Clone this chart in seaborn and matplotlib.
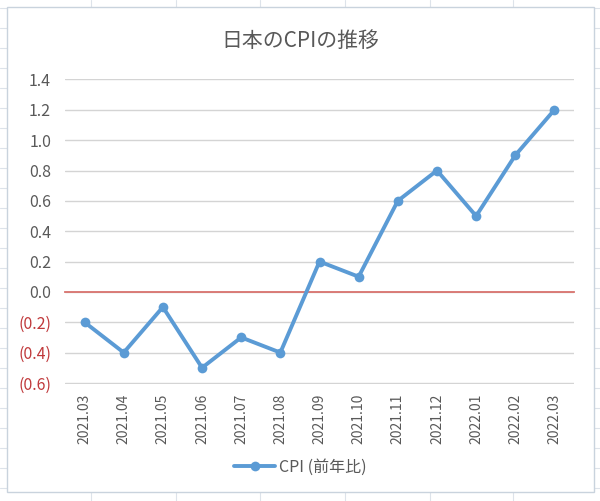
import matplotlib
matplotlib.use("Agg")
import matplotlib.pyplot as plt
import seaborn as sns
import pandas as pd
from matplotlib.lines import Line2D
from matplotlib.patches import Rectangle
from matplotlib.ticker import FuncFormatter, FixedLocator

months = ["2021.03", "2021.04", "2021.05", "2021.06", "2021.07", "2021.08", "2021.09",
          "2021.10", "2021.11", "2021.12", "2022.01", "2022.02", "2022.03"]
cpi = [-0.2, -0.4, -0.1, -0.5, -0.3, -0.4, 0.2, 0.1, 0.6, 0.8, 0.5, 0.9, 1.2]
yticks = [1.4, 1.2, 1.0, 0.8, 0.6, 0.4, 0.2, 0.0, -0.2, -0.4, -0.6]
title = "日本のCPIの推移"
series_label = "CPI (前年比)"

sns.set_theme(style="white")
plt.rcParams['font.family'] = ['Noto Sans CJK JP', 'DejaVu Sans']

df = pd.DataFrame({"month": months, "cpi": cpi, "idx": range(len(months))})

W, H = 600, 501
fig = plt.figure(figsize=(6.0, 5.01), dpi=100)
fig.patch.set_facecolor("white")

# spreadsheet background cell lines (decorative)
cell_col = "#dde3ea"
for xv in [91, 176, 260, 345, 430, 513]:
    fig.add_artist(Line2D([xv / W, xv / W], [0, 1], color=cell_col, lw=0.8, zorder=0))
for yv in range(8, 501, 20):
    fig.add_artist(Line2D([0, 1], [1 - yv / H, 1 - yv / H], color=cell_col, lw=0.8, zorder=0))
# chart area
fig.add_artist(Rectangle((7 / W, 1 - 492 / H), (594 - 7) / W, (492 - 7) / H,
                         facecolor="white", edgecolor="#c9d3dd", lw=1.0, zorder=0.5))

ax = fig.add_axes([65 / W, 1 - 384 / H, (574 - 65) / W, (384 - 79) / H])
ax.set_facecolor("none")
ax.set_zorder(2)

blue = "#5b9bd5"
sns.lineplot(data=df, x="idx", y="cpi", ax=ax, color=blue, lw=2.8, marker="o",
             markersize=7, markeredgewidth=0, label=series_label, zorder=5)

ax.set_xlim(-0.5, len(months) - 0.5)
ax.set_ylim(-0.607, 1.403)
ax.set_yticks(yticks)
ax.yaxis.grid(True, color="#d4d4d4", lw=1.0)
ax.set_axisbelow(True)

def fmt(v, pos):
    if v < -1e-9:
        return f"({abs(v):.1f})"
    return f"{v:.1f}"
ax.yaxis.set_major_formatter(FuncFormatter(fmt))
ax.tick_params(axis="y", length=0, labelsize=11.5, labelcolor="#595959", pad=10)
for lab in ax.get_yticklabels():
    if lab.get_text().startswith("("):
        lab.set_color("#c0393b")

for s in ["top", "right", "left"]:
    ax.spines[s].set_visible(False)
ax.spines["bottom"].set_position(("data", 0))
ax.spines["bottom"].set_color("#d9736e")
ax.spines["bottom"].set_linewidth(1.3)
ax.set_xticks(range(len(months)))
ax.tick_params(axis="x", which="major", length=0, labelbottom=False)
ax.xaxis.set_minor_locator(FixedLocator([i - 0.5 for i in range(len(months) + 1)]))
ax.tick_params(axis="x", which="minor", length=4, width=0.8, color="#bfbfbf", direction="out")

sec = ax.secondary_xaxis(0)
sec.set_xticks(range(len(months)))
sec.set_xticklabels(months, rotation=90)
sec.tick_params(length=0, labelsize=10, labelcolor="#595959", pad=7)
sec.spines["bottom"].set_visible(False)

ax.set_xlabel("")
ax.set_ylabel("")

leg = ax.legend(loc="center", bbox_to_anchor=(0.5, 1 - 467 / H), bbox_transform=fig.transFigure,
                frameon=False, fontsize=11.5, handlelength=2.6, handletextpad=0.2)
for t in leg.get_texts():
    t.set_color("#595959")

fig.text(0.5, 1 - 41 / H, title, ha="center", va="center", fontsize=15, color="#595959")

fig.savefig("out.png", dpi=100)
